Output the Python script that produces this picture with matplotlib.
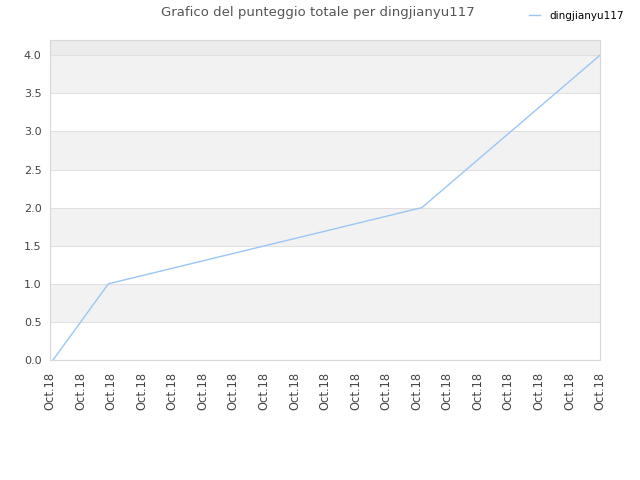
import matplotlib
matplotlib.use("Agg")
import matplotlib.pyplot as plt
import numpy as np

# data
player = "dingjianyu117"
x_pos = [0.1, 1.91, 12.17, 18.0]
scores = [0.0, 1.0, 2.0, 4.0]
tick_labels = ["Oct.18"] * 19

fig = plt.figure(figsize=(6.4, 4.8), dpi=100)
ax = fig.add_axes([50 / 640, 1 - 360 / 480, 550 / 640, 320 / 480])

ymax = 4.2
ax.set_xlim(0, 18)
ax.set_ylim(0, ymax)

# alternating bands
for lo in np.arange(0.5, 4.0, 1.0):
    ax.axhspan(lo, lo + 0.5, color="#f2f2f2", zorder=0, lw=0)
ax.axhspan(4.0, ymax, color="#ececec", zorder=0, lw=0)

ax.set_yticks(np.arange(0, 4.01, 0.5))
ax.set_yticklabels(["%.1f" % v for v in np.arange(0, 4.01, 0.5)])
ax.grid(axis="y", color="#e0e0e0", lw=0.8, zorder=1)
ax.set_axisbelow(True)

ax.set_xticks(range(len(tick_labels)))
ax.set_xticklabels(tick_labels, rotation=90)
ax.tick_params(length=0, labelsize=8, colors="#444444", pad=6)
ax.tick_params(axis="x", labelsize=8.3, pad=8.5)

for s in ax.spines.values():
    s.set_color("#d8d8d8")
    s.set_linewidth(0.8)

ax.plot(x_pos, scores, color="#99c7f5", lw=1, label=player, zorder=3)

fig.text(0.497, 0.988, "Grafico del punteggio totale per " + player,
         ha="center", va="top", fontsize=9.5, color="#555555")
fig.legend(loc="upper right", bbox_to_anchor=(0.99, 0.997), frameon=False,
           fontsize=7.5, handlelength=1.1, handletextpad=0.9)

fig.savefig("out.png", dpi=100)
